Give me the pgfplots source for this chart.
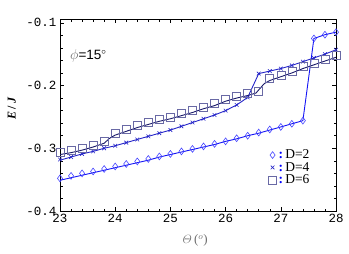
\documentclass[border=0pt]{standalone}
\usepackage{fontspec}
\setmainfont{Liberation Serif}
\setsansfont{Liberation Sans}
\setmonofont{Liberation Mono}
\usepackage{pgfplots}
\pgfplotsset{compat=1.18}
\definecolor{ctwo}{RGB}{20,20,245}
\definecolor{ctwom}{RGB}{70,70,255}
\definecolor{cfour}{RGB}{35,35,200}
\definecolor{csix}{RGB}{25,25,105}
\definecolor{csixm}{RGB}{105,105,165}
\definecolor{lab}{RGB}{110,110,110}
\begin{document}
\begin{tikzpicture}
\begin{axis}[
 name=ax, scale only axis, width=276pt, height=192pt,
 xmin=23, xmax=28, ymin=-0.4, ymax=-0.094,
 xtick={23,24,25,26,27,28}, xticklabels={23,24,25,26,27,28},
 ytick={-0.4,-0.3,-0.2,-0.1}, yticklabels={-0.4,-0.3,-0.2,-0.1},
 minor x tick num=4, minor y tick num=4,
 tick align=inside, major tick length=4pt, minor tick length=2.5pt,
 tick style={black, line width=0.5pt},
 axis line style={black, line width=0.6pt},
 ticklabel style={font=\fontsize{12.5}{14}\selectfont\ttfamily},
 xlabel={\textcolor{lab}{$\mathnormal{\Theta}$\,($^{o}$)}},
 xlabel style={at={(axis description cs:0.49,-0.155)}, anchor=center, font=\fontsize{13}{15}\selectfont},
 ylabel={\textbf{\textit{E}\,/\,\textit{J}}},
 ylabel style={at={(axis description cs:-0.175,0.535)}, anchor=center, rotate=0, font=\fontsize{12}{14}\selectfont},
 legend style={at={(0.755,0.33)}, anchor=north west, draw=none, fill=none, font=\fontsize{13.5}{15}\selectfont, row sep=-2pt, inner sep=0pt},
 legend cell align=left,
]
\addplot[only marks, mark=diamond, mark size=3.4pt, ctwom, mark options={line width=0.6pt}] table {
23.0 -0.348
23.2 -0.344
23.4 -0.340
23.6 -0.337
23.8 -0.333
24.0 -0.329
24.2 -0.325
24.4 -0.321
24.6 -0.317
24.8 -0.313
25.0 -0.309
25.2 -0.305
25.4 -0.301
25.6 -0.297
25.8 -0.293
26.0 -0.289
26.2 -0.284
26.4 -0.280
26.6 -0.275
26.8 -0.270
27.0 -0.266
27.2 -0.261
27.4 -0.256
27.6 -0.125
27.8 -0.119
28.0 -0.115
};
\addlegendentry{\textcolor{blue}{\textbf{:}}\,D=2}
\addplot[only marks, mark=x, mark size=2.6pt, cfour, mark options={line width=0.6pt}] table {
23.0 -0.318
23.2 -0.314
23.4 -0.309
23.6 -0.305
23.8 -0.300
24.0 -0.296
24.2 -0.291
24.4 -0.286
24.6 -0.281
24.8 -0.276
25.0 -0.271
25.2 -0.265
25.4 -0.259
25.6 -0.253
25.8 -0.247
26.0 -0.240
26.2 -0.231
26.4 -0.219
26.6 -0.181
26.8 -0.177
27.0 -0.173
27.2 -0.168
27.4 -0.162
27.6 -0.156
27.8 -0.150
28.0 -0.143
};
\addlegendentry{\textcolor{blue}{\textbf{:}}\,D=4}
\addplot[only marks, mark=square, mark size=4pt, csixm, mark options={line width=0.6pt}] table {
23.0 -0.306
23.2 -0.304
23.4 -0.300
23.6 -0.295
23.8 -0.289
24.0 -0.276
24.2 -0.270
24.4 -0.264
24.6 -0.259
24.8 -0.254
25.0 -0.250
25.2 -0.245
25.4 -0.240
25.6 -0.234
25.8 -0.229
26.0 -0.222
26.2 -0.217
26.4 -0.213
26.6 -0.209
26.8 -0.189
27.0 -0.183
27.2 -0.177
27.4 -0.170
27.6 -0.164
27.8 -0.158
28.0 -0.152
};
\addlegendentry{\textcolor{blue}{\textbf{:}}\,D=6}
\addplot[ctwo, line width=0.9pt, forget plot] table {
23.0 -0.351
23.2 -0.347
23.4 -0.343
23.6 -0.339
23.8 -0.335
24.0 -0.331
24.2 -0.327
24.4 -0.323
24.6 -0.319
24.8 -0.314
25.0 -0.310
25.2 -0.306
25.4 -0.302
25.6 -0.298
25.8 -0.294
26.0 -0.289
26.2 -0.285
26.4 -0.280
26.6 -0.276
26.8 -0.271
27.0 -0.266
27.2 -0.261
27.4 -0.256
27.6 -0.125
27.8 -0.119
28.0 -0.115
};
\addplot[cfour, line width=0.9pt, forget plot] table {
23.0 -0.319
23.2 -0.314
23.4 -0.309
23.6 -0.305
23.8 -0.300
24.0 -0.296
24.2 -0.291
24.4 -0.286
24.6 -0.281
24.8 -0.276
25.0 -0.271
25.2 -0.265
25.4 -0.259
25.6 -0.253
25.8 -0.247
26.0 -0.240
26.2 -0.231
26.4 -0.219
26.6 -0.181
26.8 -0.177
27.0 -0.173
27.2 -0.168
27.4 -0.162
27.6 -0.156
27.8 -0.150
28.0 -0.143
};
\addplot[csix, line width=0.9pt, forget plot] table {
23.0 -0.310
23.2 -0.307
23.4 -0.303
23.6 -0.298
23.8 -0.292
23.9 -0.284
24.0 -0.279
24.2 -0.273
24.4 -0.267
24.6 -0.262
24.8 -0.257
25.0 -0.253
25.2 -0.248
25.4 -0.243
25.6 -0.237
25.8 -0.232
26.0 -0.225
26.2 -0.220
26.4 -0.216
26.55 -0.212
26.7 -0.197
26.8 -0.192
27.0 -0.186
27.2 -0.180
27.4 -0.173
27.6 -0.167
27.8 -0.161
28.0 -0.155
};
\node[anchor=west, font=\fontsize{13.5}{15}\selectfont] at (axis cs:23.12,-0.153) {\textcolor{lab}{$\phi$}{\sffamily=15}$^{\circ}$};
\end{axis}
\path (ax.south west) +(-60pt,-42pt);
\path (ax.north east) +(13pt,19pt);
\end{tikzpicture}
\end{document}
